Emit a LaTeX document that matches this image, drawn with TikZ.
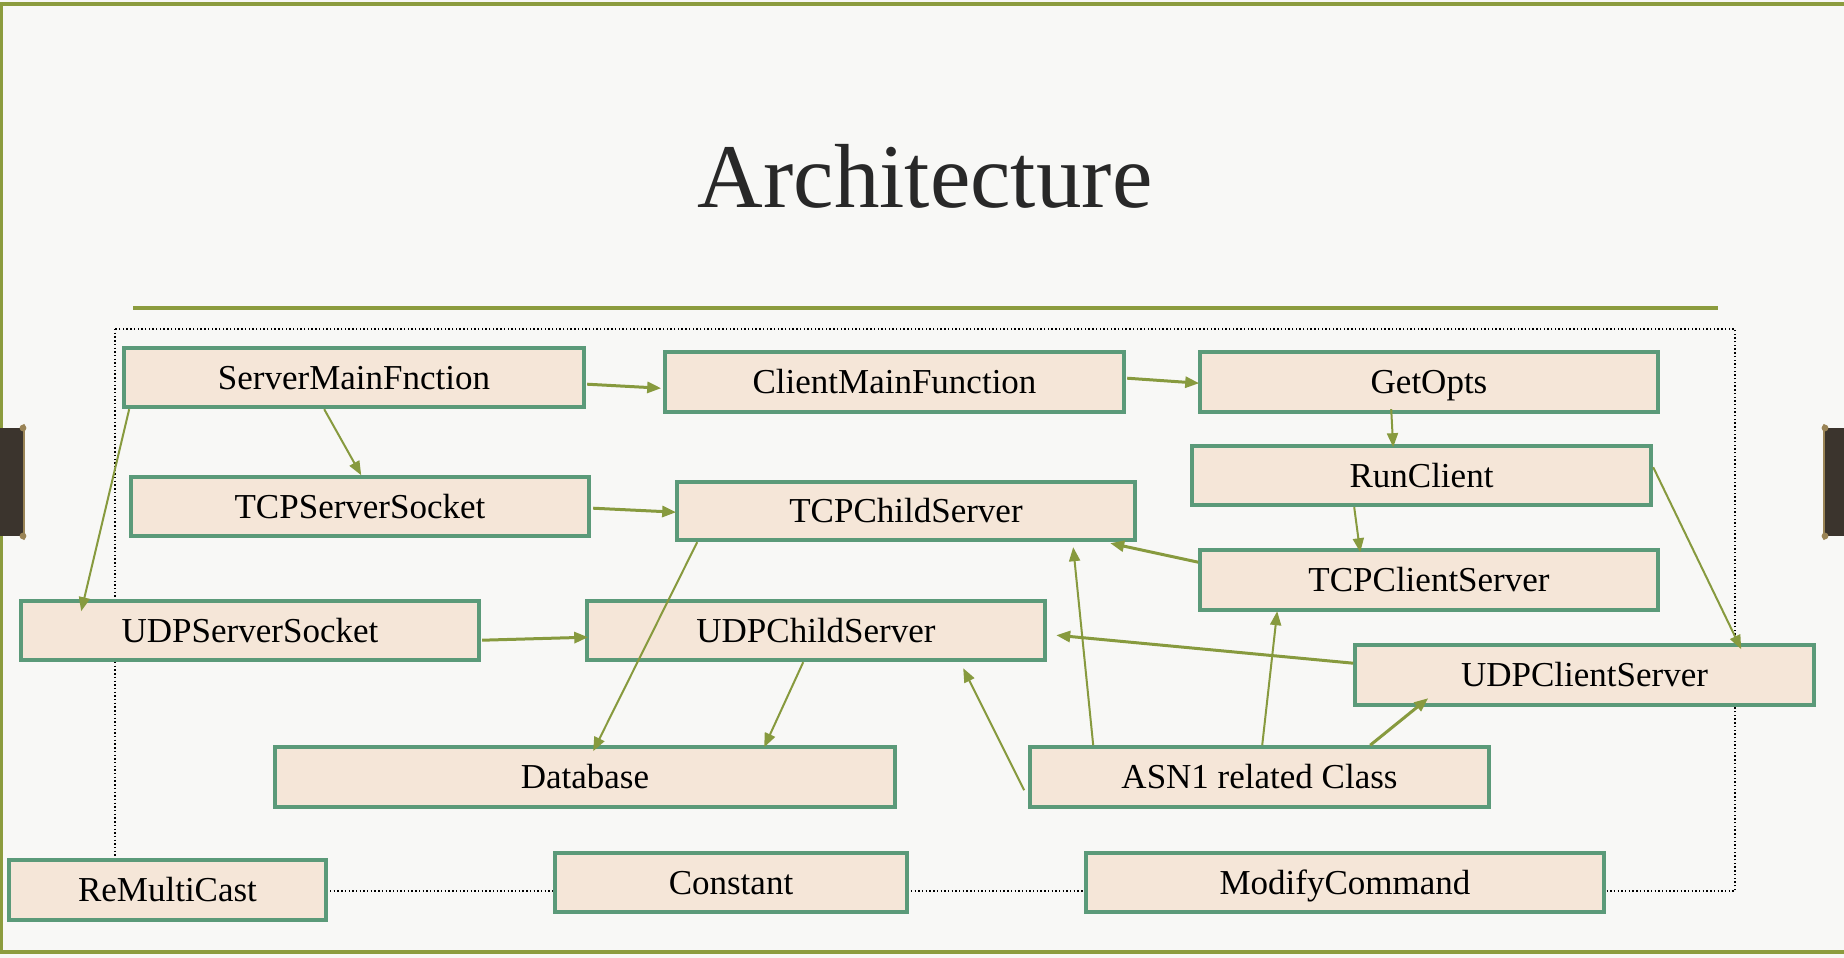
\documentclass[tikz,border=0pt]{standalone}
\usepackage{fontspec}
\setmainfont{Liberation Serif}
\usetikzlibrary{calc,arrows.meta}
\definecolor{bg}{HTML}{F8F8F6}
\definecolor{framec}{HTML}{8C9C3E}
\definecolor{boxline}{HTML}{5B9A79}
\definecolor{boxfill}{HTML}{F5E6D8}
\definecolor{arrowc}{HTML}{879A3E}
\definecolor{tabc}{HTML}{3B342D}
\definecolor{tabedge}{HTML}{9A8456}
\definecolor{titlec}{HTML}{282828}
\begin{document}
\begin{tikzpicture}[x=1pt,y=-1pt,
  box/.style={draw=boxline, fill=boxfill, line width=3.6pt, inner sep=0pt,
    font=\fontsize{35}{40}\selectfont, text=black, text height=23pt, text depth=0pt},
  arr/.style={draw=arrowc, line width=2pt, -{Triangle[length=14pt,width=11pt]}},
  arrthick/.style={arr, line width=3pt}]
\useasboundingbox (0,0) rectangle (1844,958);
\fill[bg] (0,0) rectangle (1844,958);
% outer frame
\draw[framec, line width=3.4pt] (1844,4) -- (1.7,4) -- (1.7,952) -- (1844,952);
% side tabs
\fill[tabc] (0,428) rectangle (24,536);
\draw[tabedge, line width=2.4pt, line cap=round] (24,425) -- (24,539);
\fill[tabedge] (23,428) circle (3.4);
\fill[tabedge] (23,536) circle (3.4);
\fill[tabc] (1824,428) rectangle (1844,536);
\draw[tabedge, line width=2.4pt, line cap=round] (1824,425) -- (1824,539);
\fill[tabedge] (1825,428) circle (3.4);
\fill[tabedge] (1825,536) circle (3.4);
% title
\node[anchor=base, inner sep=0pt, text=titlec, font=\fontsize{91}{100}\selectfont] (title) at (925,207) {Architecture};
\draw[framec, line width=3.2pt] (133,308) -- (1718,308);
% dotted frame
\draw[black, line width=1.4pt, dash pattern=on 1.4pt off 2.3pt] (115,329) rectangle (1735,891);
% boxes
\node[box, minimum width=460pt, minimum height=59pt] (smf) at (354,377.5) {ServerMainFnction};
\node[box, minimum width=459pt, minimum height=60pt] (cmf) at (894.5,382) {ClientMainFunction};
\node[box, minimum width=458pt, minimum height=60pt] (go) at (1429,382) {GetOpts};
\node[box, minimum width=459pt, minimum height=59pt] (rc) at (1421.5,475.5) {RunClient};
\node[box, minimum width=458pt, minimum height=59pt] (tss) at (360,506.5) {TCPServerSocket};
\node[box, minimum width=458pt, minimum height=58pt] (tcs) at (906,511) {TCPChildServer};
\node[box, minimum width=458pt, minimum height=59pt] (uss) at (250,630.5) {UDPServerSocket};
\node[box, minimum width=458pt, minimum height=59pt] (ucs) at (816,630.5) {UDPChildServer};
\node[box, minimum width=458pt, minimum height=60pt] (tcls) at (1429,580) {TCPClientServer};
\node[box, minimum width=459pt, minimum height=60pt] (ucls) at (1584.5,675) {UDPClientServer};
\node[box, minimum width=620pt, minimum height=60pt] (db) at (585,777) {Database};
\node[box, minimum width=459pt, minimum height=60pt] (asn) at (1259.5,777) {ASN1 related Class};
\node[box, minimum width=317pt, minimum height=60pt] (rmc) at (167.5,890) {ReMultiCast};
\node[box, minimum width=352pt, minimum height=59pt] (con) at (731,882.5) {Constant};
\node[box, minimum width=518pt, minimum height=59pt] (mod) at (1345,882.5) {ModifyCommand};
% connectors
\draw[arrthick] ($(smf.north west)+(465,38)$) -- ($(cmf.north west)+(-2,38)$);
\draw[arrthick] ($(cmf.north west)+(464,28)$) -- ($(go.north west)+(1,33)$);
\draw[arr] ($(go.north west)+(193,59)$) -- ($(rc.north west)+(203,3)$);
\draw[arr] ($(smf.north west)+(202,63)$) -- ($(tss.north west)+(232,0)$);
\draw[arr] ($(smf.north west)+(7,63)$) -- ($(uss.north west)+(62,12)$);
\draw[arrthick] ($(tss.north west)+(464,33)$) -- ($(tcs.north west)+(1,32)$);
\draw[arrthick] ($(uss.north west)+(463,41)$) -- ($(ucs.north west)+(3,38)$);
\draw[arr] ($(tcs.north west)+(22,62)$) -- ($(db.north west)+(320,6)$);
\draw[arr] ($(ucs.north west)+(218,63)$) -- ($(db.north west)+(491,2)$);
\draw[arr] ($(rc.north west)+(164,63)$) -- ($(tcls.north west)+(162,4)$);
\draw[arr] ($(rc.north west)+(463,23)$) -- ($(ucls.north west)+(388,6)$);
\draw[arrthick] ($(tcls.north west)+(0,14)$) -- ($(tcs.north west)+(435,63)$);
\draw[arrthick] ($(ucls.north west)+(0,20)$) -- ($(ucs.north west)+(471,36)$);
\draw[arr] ($(asn.north west)+(-4,45)$) -- ($(ucs.north west)+(378,69)$);
\draw[arr] ($(asn.north west)+(65,0)$) -- ($(tcs.north west)+(398,67)$);
\draw[arr] ($(asn.north west)+(234,0)$) -- ($(tcls.north west)+(79,63)$);
\draw[arrthick] ($(asn.north west)+(342,0)$) -- ($(ucls.north west)+(75,55)$);
\end{tikzpicture}
\end{document}
